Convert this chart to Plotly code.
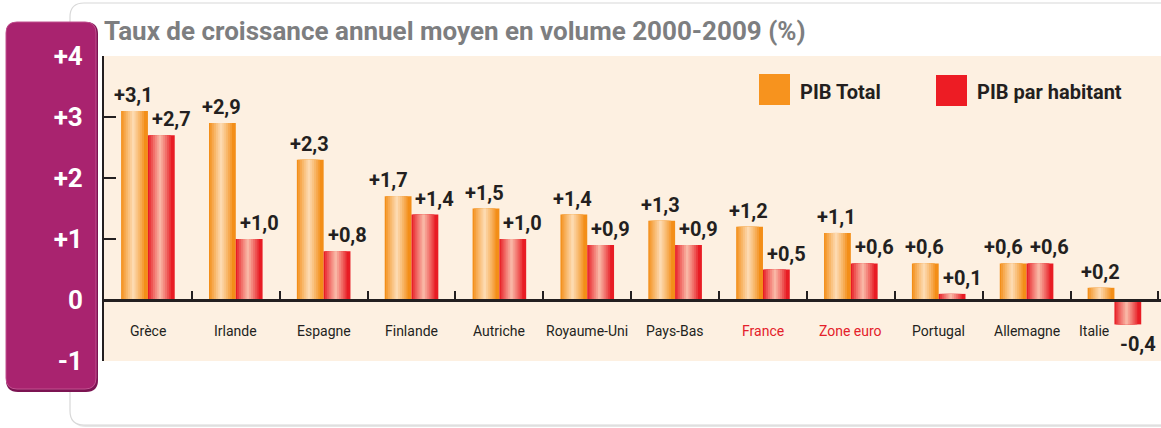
import plotly.graph_objects as go

# ---------------- data ----------------
categories = ["Grèce", "Irlande", "Espagne", "Finlande", "Autriche", "Royaume-Uni",
              "Pays-Bas", "France", "Zone euro", "Portugal", "Allemagne", "Italie"]
pib_total = [3.1, 2.9, 2.3, 1.7, 1.5, 1.4, 1.3, 1.2, 1.1, 0.6, 0.6, 0.2]
pib_habitant = [2.7, 1.0, 0.8, 1.4, 1.0, 0.9, 0.9, 0.5, 0.6, 0.1, 0.6, -0.4]
highlight_categories = ["France", "Zone euro"]
y_tickvals = [-1, 0, 1, 2, 3, 4]
y_ticktext = ["-1", "0", "+1", "+2", "+3", "+4"]
title_text = "Taux de croissance annuel moyen en volume 2000-2009 (%)"
series_names = ["PIB Total", "PIB par habitant"]

# ---------------- style ----------------
W, H = 1161, 428
ML, MR, MT, MB = 104, 0, 56, 67
PW, PH = W - ML - MR, H - MT - MB
X_RANGE = [-0.5, 11.53]
CAT_PX = PW / (X_RANGE[1] - X_RANGE[0])
FONT = "Roboto, Liberation Sans, sans-serif"
DARK = "#231F20"
ORANGE_EDGE, ORANGE_LIGHT = (243, 142, 24), (253, 218, 176)
RED_EDGE, RED_LIGHT = (232, 28, 36), (249, 182, 165)
BG = "#FDF0E1"
PURPLE = "#A9236F"
HL_RED = "#E4202A"
N_LAYERS = 7


def fmt(v):
    return ("+" if v >= 0 else "-") + f"{abs(v):.1f}".replace(".", ",")


def px_x(p):
    return (p - ML) / PW


def px_y(p):
    return (H - MB - p) / PH


def mix(a, b, t):
    return "rgb(%d,%d,%d)" % tuple(round(a[k] + (b[k] - a[k]) * t) for k in range(3))


def rounded(x0p, y0p, x1p, y1p, r):
    x0, x1 = px_x(x0p), px_x(x1p)
    yt, yb = px_y(y0p), px_y(y1p)
    rx, ry = r / PW, r / PH
    return (f"M {x0+rx},{yt} L {x1-rx},{yt} Q {x1},{yt} {x1},{yt-ry} "
            f"L {x1},{yb+ry} Q {x1},{yb} {x1-rx},{yb} L {x0+rx},{yb} "
            f"Q {x0},{yb} {x0},{yb+ry} L {x0},{yt-ry} Q {x0},{yt} {x0+rx},{yt} Z")


def f(size, color=DARK, bold=False):
    d = dict(family=FONT, size=size, color=color)
    if bold:
        d["weight"] = "bold"
    return d


fig = go.Figure()

bar_w = 0.305
hl_center = 0.45 * bar_w  # highlight position from the bar's left edge
for vals, (edge, light), base_off, name in [
        (pib_total, (ORANGE_EDGE, ORANGE_LIGHT), -bar_w, series_names[0]),
        (pib_habitant, (RED_EDGE, RED_LIGHT), 0.0, series_names[1])]:
    for i in range(N_LAYERS):
        t = i / (N_LAYERS - 1)
        if i == 0:
            w, off = bar_w, base_off
        else:
            w = bar_w * (1 - t) * 0.85 + 0.03
            off = base_off + hl_center - w / 2
        fig.add_trace(go.Bar(
            x=categories, y=vals, name=name, showlegend=False,
            width=w, offset=off,
            marker=dict(color=mix(edge, light, t ** 0.9), line=dict(width=0)),
            hoverinfo="skip" if i else None))

annotations = []
half = bar_w / 2 * CAT_PX
for c, vt, vh in zip(categories, pib_total, pib_habitant):
    close = abs(vt - vh) < 0.35
    for v, dx in [(vt, -half - (10 if close else 1)), (vh, half + 10)]:
        neg = v < 0
        annotations.append(dict(
            x=c, y=v, xref="x", yref="y", text=fmt(v), showarrow=False,
            xanchor="center", yanchor="top" if neg else "bottom",
            xshift=dx, yshift=-6 if neg else 2, font=f(20, bold=True)))
for c in categories:
    annotations.append(dict(
        x=c, y=0, xref="x", yref="y", text=c, showarrow=False,
        xanchor="center", yanchor="top", yshift=-21,
        xshift=-20 if c == categories[-1] else 0,
        font=f(14, HL_RED if c in highlight_categories else DARK)))

shapes = []
shapes.append(dict(type="path", xref="paper", yref="paper",
                   path=rounded(72, 5, 1175, 427, 14), fillcolor="#E6E6E6",
                   line=dict(width=0), layer="below"))
shapes.append(dict(type="path", xref="paper", yref="paper",
                   path=rounded(70, 3, 1175, 425, 14), fillcolor="white",
                   line=dict(color="#D8D8D8", width=1.2), layer="below"))
shapes.append(dict(type="rect", xref="paper", yref="paper", x0=0, x1=1, y0=0, y1=1,
                   fillcolor=BG, line=dict(width=0), layer="below"))
shapes.append(dict(type="path", xref="paper", yref="paper",
                   path=rounded(6, 22, 98, 392, 12), fillcolor="#7C1452",
                   line=dict(width=0), layer="below"))
shapes.append(dict(type="path", xref="paper", yref="paper",
                   path=rounded(6, 22, 96, 389, 11), fillcolor=PURPLE,
                   line=dict(color="#C0508F", width=1), layer="below"))
shapes.append(dict(type="rect", xref="paper", yref="paper",
                   x0=px_x(759), x1=px_x(790), y0=px_y(105), y1=px_y(74),
                   fillcolor="#F7931E", line=dict(width=0)))
shapes.append(dict(type="rect", xref="paper", yref="paper",
                   x0=px_x(936), x1=px_x(967), y0=px_y(106), y1=px_y(75),
                   fillcolor="#ED1C24", line=dict(width=0)))

annotations += [
    dict(text=title_text, xref="paper", yref="paper", x=px_x(102), y=px_y(31),
         xanchor="left", yanchor="middle", showarrow=False, font=f(26, "#7D7E80", True)),
    dict(text=series_names[0], xref="paper", yref="paper", x=px_x(798), y=px_y(92),
         xanchor="left", yanchor="middle", showarrow=False, font=f(20, bold=True)),
    dict(text=series_names[1], xref="paper", yref="paper", x=px_x(975), y=px_y(92),
         xanchor="left", yanchor="middle", showarrow=False, font=f(20, bold=True)),
]

fig.update_layout(
    width=W, height=H, autosize=False,
    margin=dict(l=ML, r=MR, t=MT, b=MB, pad=0),
    paper_bgcolor="white", plot_bgcolor="rgba(0,0,0,0)",
    barmode="overlay", showlegend=False,
    shapes=shapes, annotations=annotations,
    xaxis=dict(type="category", range=X_RANGE, anchor="free",
               position=px_y(300), showline=True, linecolor=DARK, linewidth=2.5,
               ticks="inside", ticklen=8, tickwidth=2, tickcolor=DARK,
               tickson="boundaries", tickmode="array", tickvals=categories,
               showticklabels=False, showgrid=False, zeroline=False),
    yaxis=dict(range=[-1, 4], showline=True, linecolor=DARK, linewidth=2,
               ticks="inside", ticklen=12, tickwidth=1.5, tickcolor=DARK,
               tickvals=y_tickvals, ticktext=y_ticktext, ticklabelstandoff=14,
               tickfont=f(26, "white", True), showgrid=False, zeroline=False),
)

fig.write_html("out.html", config={"displayModeBar": False},
               post_script="document.body.style.margin='0';")
